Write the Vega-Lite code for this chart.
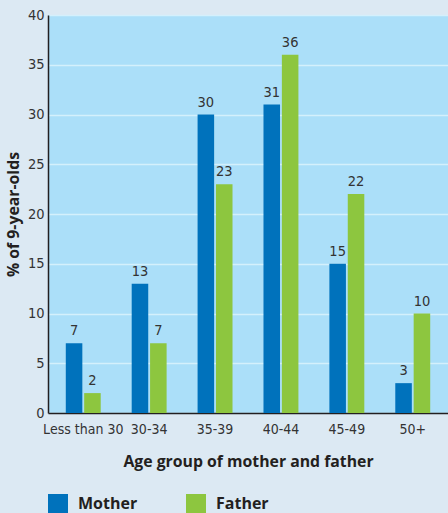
{
  "$schema": "https://vega.github.io/schema/vega-lite/v6.json",
  "width": 400,
  "height": 398,
  "autosize": "none",
  "padding": {"left": 48, "top": 15, "right": 0, "bottom": 100},
  "background": "#dce9f3",
  "config": {
    "view": {"fill": "#abdff9", "stroke": null},
    "font": "'DejaVu Sans Condensed', 'Liberation Sans Narrow', Roboto, sans-serif"
  },
  "data": {
    "values": [
      {"age": "Less than 30", "parent": "Mother", "value": 7},
      {"age": "Less than 30", "parent": "Father", "value": 2},
      {"age": "30-34", "parent": "Mother", "value": 13},
      {"age": "30-34", "parent": "Father", "value": 7},
      {"age": "35-39", "parent": "Mother", "value": 30},
      {"age": "35-39", "parent": "Father", "value": 23},
      {"age": "40-44", "parent": "Mother", "value": 31},
      {"age": "40-44", "parent": "Father", "value": 36},
      {"age": "45-49", "parent": "Mother", "value": 15},
      {"age": "45-49", "parent": "Father", "value": 22},
      {"age": "50+", "parent": "Mother", "value": 3},
      {"age": "50+", "parent": "Father", "value": 10}
    ]
  },
  "encoding": {
    "x": {
      "field": "age",
      "type": "nominal",
      "sort": null,
      "scale": {"paddingInner": 0.47, "paddingOuter": 0.27},
      "axis": {
        "title": "Age group of mother and father",
        "titleFont": "Open Sans",
        "titleFontSize": 15.8,
        "titleFontWeight": "bold",
        "titleColor": "#231f20",
        "titlePadding": 18,
        "labelAngle": 0,
        "labelFontSize": 14,
        "labelColor": "#333333",
        "labelPadding": 9,
        "ticks": false,
        "domainColor": "#231f20",
        "domainWidth": 1.5
      }
    },
    "xOffset": {"field": "parent", "type": "nominal", "sort": ["Mother", "Father"], "scale": {"paddingInner": 0.1}},
    "y": {
      "field": "value",
      "type": "quantitative",
      "scale": {"domain": [0, 40]},
      "axis": {
        "title": "% of 9-year-olds",
        "titleFont": "Open Sans",
        "titleFontSize": 15.8,
        "titleFontWeight": "bold",
        "titleColor": "#231f20",
        "titlePadding": 6,
        "values": [0, 5, 10, 15, 20, 25, 30, 35, 40],
        "labelOverlap": false,
        "labelFontSize": 14.5,
        "labelColor": "#333333",
        "labelPadding": 4,
        "ticks": false,
        "grid": true,
        "gridColor": "#d4f0fc",
        "gridWidth": 1.5,
        "domainColor": "#231f20",
        "domainWidth": 1.5
      }
    }
  },
  "layer": [
    {
      "mark": {"type": "bar"},
      "encoding": {
        "color": {
          "field": "parent",
          "type": "nominal",
          "sort": ["Mother", "Father"],
          "scale": {"domain": ["Mother", "Father"], "range": ["#0072bc", "#8dc63f"]},
          "legend": {
            "title": null,
            "orient": "none",
            "legendX": 0,
            "legendY": 479,
            "direction": "horizontal",
            "symbolType": "square",
            "symbolSize": 400,
            "symbolOpacity": 1,
            "symbolStrokeWidth": 0,
            "labelFont": "Open Sans",
            "labelFontSize": 16,
            "labelFontWeight": "bold",
            "labelColor": "#231f20",
            "labelOffset": 10,
            "columnPadding": 48
          }
        }
      }
    },
    {
      "mark": {"type": "text", "baseline": "bottom", "dy": -5, "fontSize": 14.5, "color": "#333333"},
      "encoding": {"text": {"field": "value", "type": "quantitative"}}
    }
  ]
}
